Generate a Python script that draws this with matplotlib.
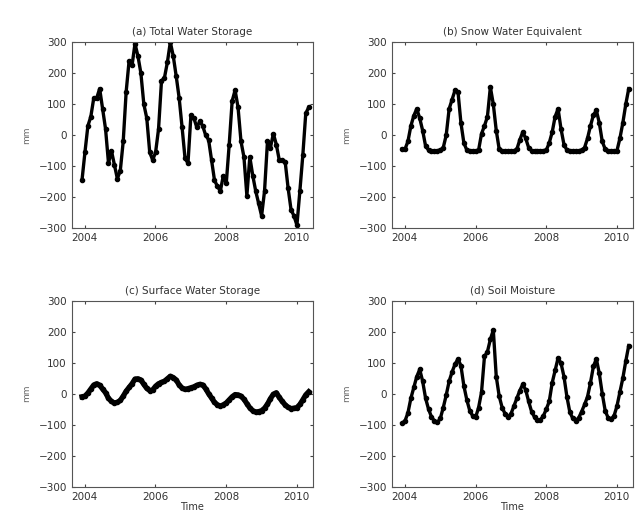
import numpy as np
import matplotlib.pyplot as plt

# monthly series, Dec 2003 onwards (mm)
t0 = 2003.92
tws = [-145, -55, 30, 60, 120, 120, 150, 85, 20, -90, -50, -95, -140, -115,
       -20, 140, 240, 225, 295, 255, 200, 100, 55, -55, -80, -55, 20, 175,
       185, 235, 300, 255, 190, 120, 25, -75, -90, 65, 55, 25, 45, 30, 0,
       -15, -80, -145, -165, -180, -130, -155, -30, 110, 145, 90, -20, -70,
       -195, -70, -130, -180, -220, -260, -180, -20, -40, 5, -30, -80, -80,
       -85, -170, -240, -260, -290, -180, -65, 70, 90]
swe = [-45, -45, -20, 30, 63, 85, 55, 15, -35, -48, -50, -50, -50, -48,
       -40, 0, 85, 115, 145, 140, 40, -25, -48, -50, -50, -50, -48, 5,
       30, 60, 155, 100, 15, -45, -50, -50, -50, -50, -50, -45, -15, 10,
       -10, -40, -50, -50, -50, -50, -50, -48, -25, 10, 60, 85, 20, -30,
       -48, -50, -50, -50, -50, -48, -40, -10, 30, 65, 80, 40, -20, -45,
       -50, -50, -50, -50, -10, 40, 100, 150]
sws = [-10, -8, 2, 15, 28, 32, 27, 15, 3, -15, -25, -30, -28, -22, -8, 8,
       20, 32, 47, 48, 44, 30, 17, 10, 12, 24, 32, 36, 40, 48, 56, 52, 44,
       28, 18, 14, 16, 19, 22, 27, 30, 28, 16, 0, -14, -28, -36, -40, -36,
       -30, -20, -10, -3, -4, -8, -18, -32, -46, -55, -59, -58, -55, -47,
       -34, -16, -2, 3, -12, -25, -36, -44, -48, -47, -45, -35, -20, -4, 6]
sm = [-95, -88, -62, -15, 20, 55, 78, 40, -15, -50, -75, -88, -93, -80,
      -45, -5, 40, 70, 95, 112, 90, 25, -20, -55, -72, -76, -45, 5, 120,
      135, 175, 205, 55, -8, -45, -65, -75, -65, -40, -15, 10, 30, 12, -25,
      -58, -76, -86, -84, -72, -50, -25, 35, 75, 115, 98, 55, -10, -60,
      -80, -87, -78, -58, -35, -10, 35, 88, 112, 65, 0, -55, -78, -82, -72,
      -40, 5, 50, 105, 155]

titles = ['(a) Total Water Storage', '(b) Snow Water Equivalent',
          '(c) Surface Water Storage', '(d) Soil Moisture']
series = [tws, swe, sws, sm]
years = [2004, 2006, 2008, 2010]
yticks = [-300, -200, -100, 0, 100, 200, 300]

fig = plt.figure(figsize=(6.35, 5.2), dpi=100)
pos = [[0.113, 0.561, 0.380, 0.358], [0.617, 0.561, 0.380, 0.358],
       [0.113, 0.064, 0.380, 0.358], [0.617, 0.064, 0.380, 0.358]]

for i in range(4):
    ax = fig.add_axes(pos[i])
    y = np.array(series[i])
    t = t0 + np.arange(len(y)) / 12
    lw = 3.8 if i == 2 else 2.4
    ax.plot(t, y, color='black', lw=lw, marker='o', ms=3)
    ax.set_xlim(2003.63, 2010.46)
    ax.set_ylim(-300, 300)
    ax.set_xticks(years)
    ax.set_yticks(yticks)
    ax.tick_params(direction='in', top=True, right=True, labelsize=7.5,
                   length=2.5, colors='#444444', labelcolor='#333333')
    for s in ax.spines.values():
        s.set_color('#555555')
    ax.set_title(titles[i], fontsize=7.5, color='#333333', pad=5)
    ax.set_ylabel('mm', fontsize=6.5, color='#666666', labelpad=5)
    if i >= 2:
        ax.set_xlabel('Time', fontsize=7, color='#333333', labelpad=0)

fig.savefig('out.png', dpi=100, facecolor='white')
